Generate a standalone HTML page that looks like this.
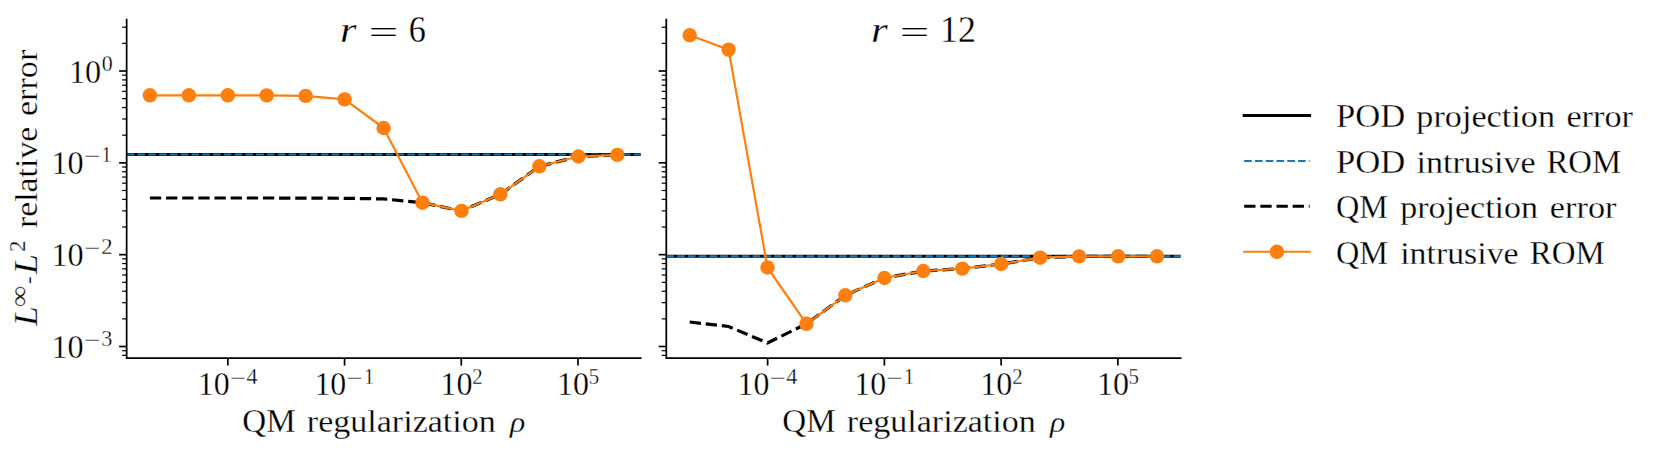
<!DOCTYPE html>
<html lang="en"><head><meta charset="utf-8"><title>QM regularization</title>
<style>html,body{margin:0;padding:0;background:#fff}body{width:1662px;height:453px;overflow:hidden}svg{display:block}.t text{stroke:#fff;stroke-width:0.28px}</style>
</head><body>
<svg width="1662" height="453" viewBox="0 0 1662 453">
<rect width="1662" height="453" fill="#fff"/>
<g font-family="'Liberation Serif', serif" fill="#000" class="t">
<g>
<line x1="126.65" x2="640.7" y1="154.5" y2="154.5" stroke="#000" stroke-width="3"/>
<line x1="126.65" x2="640.7" y1="154.5" y2="154.5" stroke="#1f77b4" stroke-width="2" stroke-dasharray="7.7 3.09"/>
<polyline points="149.9,198.0 188.8,198.0 227.8,198.0 266.7,198.0 305.7,198.1 344.6,198.3 383.6,198.9 422.5,202.7 461.5,210.9 500.4,194.3 539.4,166.3 578.4,156.5 617.3,154.9" fill="none" stroke="#000" stroke-width="3.2" stroke-dasharray="11.3 4.85"/>
<polyline points="149.9,95.3 188.8,95.3 227.8,95.3 266.7,95.4 305.7,95.9 344.6,99.4 383.6,128.0 422.5,202.7 461.5,210.9 500.4,194.3 539.4,166.3 578.4,156.5 617.3,154.9" fill="none" stroke="#ff7f0e" stroke-width="2.2" stroke-linejoin="round" stroke-linecap="square"/>
<circle cx="149.9" cy="95.3" r="7.2" fill="#ff7f0e"/>
<circle cx="188.8" cy="95.3" r="7.2" fill="#ff7f0e"/>
<circle cx="227.8" cy="95.3" r="7.2" fill="#ff7f0e"/>
<circle cx="266.7" cy="95.4" r="7.2" fill="#ff7f0e"/>
<circle cx="305.7" cy="95.9" r="7.2" fill="#ff7f0e"/>
<circle cx="344.6" cy="99.4" r="7.2" fill="#ff7f0e"/>
<circle cx="383.6" cy="128.0" r="7.2" fill="#ff7f0e"/>
<circle cx="422.5" cy="202.7" r="7.2" fill="#ff7f0e"/>
<circle cx="461.5" cy="210.9" r="7.2" fill="#ff7f0e"/>
<circle cx="500.4" cy="194.3" r="7.2" fill="#ff7f0e"/>
<circle cx="539.4" cy="166.3" r="7.2" fill="#ff7f0e"/>
<circle cx="578.4" cy="156.5" r="7.2" fill="#ff7f0e"/>
<circle cx="617.3" cy="154.9" r="7.2" fill="#ff7f0e"/>
<path d="M126.65 19.6V358.0H640.7" fill="none" stroke="#000" stroke-width="1.75" stroke-linecap="square"/>
<line x1="122.1" x2="126.65" y1="355.39" y2="355.39" stroke="#000" stroke-width="1.2"/>
<line x1="122.1" x2="126.65" y1="350.69" y2="350.69" stroke="#000" stroke-width="1.2"/>
<line x1="119.1" x2="126.65" y1="346.49" y2="346.49" stroke="#000" stroke-width="1.7"/>
<line x1="122.1" x2="126.65" y1="318.85" y2="318.85" stroke="#000" stroke-width="1.2"/>
<line x1="122.1" x2="126.65" y1="302.68" y2="302.68" stroke="#000" stroke-width="1.2"/>
<line x1="122.1" x2="126.65" y1="291.20" y2="291.20" stroke="#000" stroke-width="1.2"/>
<line x1="122.1" x2="126.65" y1="282.30" y2="282.30" stroke="#000" stroke-width="1.2"/>
<line x1="122.1" x2="126.65" y1="275.03" y2="275.03" stroke="#000" stroke-width="1.2"/>
<line x1="122.1" x2="126.65" y1="268.88" y2="268.88" stroke="#000" stroke-width="1.2"/>
<line x1="122.1" x2="126.65" y1="263.56" y2="263.56" stroke="#000" stroke-width="1.2"/>
<line x1="122.1" x2="126.65" y1="258.86" y2="258.86" stroke="#000" stroke-width="1.2"/>
<line x1="119.1" x2="126.65" y1="254.66" y2="254.66" stroke="#000" stroke-width="1.7"/>
<line x1="122.1" x2="126.65" y1="227.02" y2="227.02" stroke="#000" stroke-width="1.2"/>
<line x1="122.1" x2="126.65" y1="210.85" y2="210.85" stroke="#000" stroke-width="1.2"/>
<line x1="122.1" x2="126.65" y1="199.37" y2="199.37" stroke="#000" stroke-width="1.2"/>
<line x1="122.1" x2="126.65" y1="190.47" y2="190.47" stroke="#000" stroke-width="1.2"/>
<line x1="122.1" x2="126.65" y1="183.20" y2="183.20" stroke="#000" stroke-width="1.2"/>
<line x1="122.1" x2="126.65" y1="177.05" y2="177.05" stroke="#000" stroke-width="1.2"/>
<line x1="122.1" x2="126.65" y1="171.73" y2="171.73" stroke="#000" stroke-width="1.2"/>
<line x1="122.1" x2="126.65" y1="167.03" y2="167.03" stroke="#000" stroke-width="1.2"/>
<line x1="119.1" x2="126.65" y1="162.83" y2="162.83" stroke="#000" stroke-width="1.7"/>
<line x1="122.1" x2="126.65" y1="135.19" y2="135.19" stroke="#000" stroke-width="1.2"/>
<line x1="122.1" x2="126.65" y1="119.02" y2="119.02" stroke="#000" stroke-width="1.2"/>
<line x1="122.1" x2="126.65" y1="107.54" y2="107.54" stroke="#000" stroke-width="1.2"/>
<line x1="122.1" x2="126.65" y1="98.64" y2="98.64" stroke="#000" stroke-width="1.2"/>
<line x1="122.1" x2="126.65" y1="91.37" y2="91.37" stroke="#000" stroke-width="1.2"/>
<line x1="122.1" x2="126.65" y1="85.22" y2="85.22" stroke="#000" stroke-width="1.2"/>
<line x1="122.1" x2="126.65" y1="79.90" y2="79.90" stroke="#000" stroke-width="1.2"/>
<line x1="122.1" x2="126.65" y1="75.20" y2="75.20" stroke="#000" stroke-width="1.2"/>
<line x1="119.1" x2="126.65" y1="71.00" y2="71.00" stroke="#000" stroke-width="1.7"/>
<line x1="122.1" x2="126.65" y1="43.36" y2="43.36" stroke="#000" stroke-width="1.2"/>
<line x1="122.1" x2="126.65" y1="27.19" y2="27.19" stroke="#000" stroke-width="1.2"/>
<line x1="227.85" x2="227.85" y1="358.0" y2="365.6" stroke="#000" stroke-width="1.7"/>
<text transform="translate(197.71 395.18) scale(0.9965 1.0318)" font-size="32">10</text>
<text transform="translate(229.64 384.68) scale(1.2952 0.9286)" font-size="22.4">−</text>
<text transform="translate(246.46 383.90) scale(0.9810 1.0299)" font-size="22.4">4</text>
<line x1="344.56" x2="344.56" y1="358.0" y2="365.6" stroke="#000" stroke-width="1.7"/>
<text transform="translate(314.42 395.18) scale(0.9965 1.0318)" font-size="32">10</text>
<text transform="translate(346.35 384.68) scale(1.2952 0.9286)" font-size="22.4">−</text>
<text transform="translate(364.36 383.80) scale(0.8571 1.0233)" font-size="22.4">1</text>
<line x1="461.27" x2="461.27" y1="358.0" y2="365.6" stroke="#000" stroke-width="1.7"/>
<text transform="translate(440.36 395.18) scale(1.0018 1.0318)" font-size="32">10</text>
<text transform="translate(472.32 383.90) scale(0.9312 1.0233)" font-size="22.4">2</text>
<line x1="577.98" x2="577.98" y1="358.0" y2="365.6" stroke="#000" stroke-width="1.7"/>
<text transform="translate(557.07 395.18) scale(1.0018 1.0318)" font-size="32">10</text>
<text transform="translate(588.70 383.54) scale(0.9312 1.0233)" font-size="22.4">5</text>
</g>
<g>
<line x1="666.3" x2="1180.6" y1="256.15" y2="256.15" stroke="#000" stroke-width="3"/>
<line x1="666.3" x2="1180.6" y1="256.15" y2="256.15" stroke="#1f77b4" stroke-width="2" stroke-dasharray="7.7 3.09"/>
<polyline points="689.7,322.0 728.6,326.5 767.5,343.0 806.5,323.8 845.4,295.3 884.4,278.0 923.3,271.0 962.3,268.6 1001.2,264.0 1040.2,257.7 1079.1,256.4 1118.1,256.3 1157.0,256.3" fill="none" stroke="#000" stroke-width="3.2" stroke-dasharray="11.3 4.85"/>
<polyline points="689.7,35.2 728.6,49.6 767.5,267.5 806.5,323.8 845.4,295.3 884.4,278.0 923.3,271.0 962.3,268.6 1001.2,264.0 1040.2,257.7 1079.1,256.4 1118.1,256.3 1157.0,256.3" fill="none" stroke="#ff7f0e" stroke-width="2.2" stroke-linejoin="round" stroke-linecap="square"/>
<circle cx="689.7" cy="35.2" r="7.2" fill="#ff7f0e"/>
<circle cx="728.6" cy="49.6" r="7.2" fill="#ff7f0e"/>
<circle cx="767.5" cy="267.5" r="7.2" fill="#ff7f0e"/>
<circle cx="806.5" cy="323.8" r="7.2" fill="#ff7f0e"/>
<circle cx="845.4" cy="295.3" r="7.2" fill="#ff7f0e"/>
<circle cx="884.4" cy="278.0" r="7.2" fill="#ff7f0e"/>
<circle cx="923.3" cy="271.0" r="7.2" fill="#ff7f0e"/>
<circle cx="962.3" cy="268.6" r="7.2" fill="#ff7f0e"/>
<circle cx="1001.2" cy="264.0" r="7.2" fill="#ff7f0e"/>
<circle cx="1040.2" cy="257.7" r="7.2" fill="#ff7f0e"/>
<circle cx="1079.1" cy="256.4" r="7.2" fill="#ff7f0e"/>
<circle cx="1118.1" cy="256.3" r="7.2" fill="#ff7f0e"/>
<circle cx="1157.0" cy="256.3" r="7.2" fill="#ff7f0e"/>
<path d="M666.3 19.6V358.0H1180.6" fill="none" stroke="#000" stroke-width="1.75" stroke-linecap="square"/>
<line x1="661.7" x2="666.3" y1="355.39" y2="355.39" stroke="#000" stroke-width="1.2"/>
<line x1="661.7" x2="666.3" y1="350.69" y2="350.69" stroke="#000" stroke-width="1.2"/>
<line x1="658.7" x2="666.3" y1="346.49" y2="346.49" stroke="#000" stroke-width="1.7"/>
<line x1="661.7" x2="666.3" y1="318.85" y2="318.85" stroke="#000" stroke-width="1.2"/>
<line x1="661.7" x2="666.3" y1="302.68" y2="302.68" stroke="#000" stroke-width="1.2"/>
<line x1="661.7" x2="666.3" y1="291.20" y2="291.20" stroke="#000" stroke-width="1.2"/>
<line x1="661.7" x2="666.3" y1="282.30" y2="282.30" stroke="#000" stroke-width="1.2"/>
<line x1="661.7" x2="666.3" y1="275.03" y2="275.03" stroke="#000" stroke-width="1.2"/>
<line x1="661.7" x2="666.3" y1="268.88" y2="268.88" stroke="#000" stroke-width="1.2"/>
<line x1="661.7" x2="666.3" y1="263.56" y2="263.56" stroke="#000" stroke-width="1.2"/>
<line x1="661.7" x2="666.3" y1="258.86" y2="258.86" stroke="#000" stroke-width="1.2"/>
<line x1="658.7" x2="666.3" y1="254.66" y2="254.66" stroke="#000" stroke-width="1.7"/>
<line x1="661.7" x2="666.3" y1="227.02" y2="227.02" stroke="#000" stroke-width="1.2"/>
<line x1="661.7" x2="666.3" y1="210.85" y2="210.85" stroke="#000" stroke-width="1.2"/>
<line x1="661.7" x2="666.3" y1="199.37" y2="199.37" stroke="#000" stroke-width="1.2"/>
<line x1="661.7" x2="666.3" y1="190.47" y2="190.47" stroke="#000" stroke-width="1.2"/>
<line x1="661.7" x2="666.3" y1="183.20" y2="183.20" stroke="#000" stroke-width="1.2"/>
<line x1="661.7" x2="666.3" y1="177.05" y2="177.05" stroke="#000" stroke-width="1.2"/>
<line x1="661.7" x2="666.3" y1="171.73" y2="171.73" stroke="#000" stroke-width="1.2"/>
<line x1="661.7" x2="666.3" y1="167.03" y2="167.03" stroke="#000" stroke-width="1.2"/>
<line x1="658.7" x2="666.3" y1="162.83" y2="162.83" stroke="#000" stroke-width="1.7"/>
<line x1="661.7" x2="666.3" y1="135.19" y2="135.19" stroke="#000" stroke-width="1.2"/>
<line x1="661.7" x2="666.3" y1="119.02" y2="119.02" stroke="#000" stroke-width="1.2"/>
<line x1="661.7" x2="666.3" y1="107.54" y2="107.54" stroke="#000" stroke-width="1.2"/>
<line x1="661.7" x2="666.3" y1="98.64" y2="98.64" stroke="#000" stroke-width="1.2"/>
<line x1="661.7" x2="666.3" y1="91.37" y2="91.37" stroke="#000" stroke-width="1.2"/>
<line x1="661.7" x2="666.3" y1="85.22" y2="85.22" stroke="#000" stroke-width="1.2"/>
<line x1="661.7" x2="666.3" y1="79.90" y2="79.90" stroke="#000" stroke-width="1.2"/>
<line x1="661.7" x2="666.3" y1="75.20" y2="75.20" stroke="#000" stroke-width="1.2"/>
<line x1="658.7" x2="666.3" y1="71.00" y2="71.00" stroke="#000" stroke-width="1.7"/>
<line x1="661.7" x2="666.3" y1="43.36" y2="43.36" stroke="#000" stroke-width="1.2"/>
<line x1="661.7" x2="666.3" y1="27.19" y2="27.19" stroke="#000" stroke-width="1.2"/>
<line x1="767.63" x2="767.63" y1="358.0" y2="365.6" stroke="#000" stroke-width="1.7"/>
<text transform="translate(737.49 395.18) scale(0.9965 1.0318)" font-size="32">10</text>
<text transform="translate(769.42 384.68) scale(1.2952 0.9286)" font-size="22.4">−</text>
<text transform="translate(786.24 383.90) scale(0.9810 1.0299)" font-size="22.4">4</text>
<line x1="884.38" x2="884.38" y1="358.0" y2="365.6" stroke="#000" stroke-width="1.7"/>
<text transform="translate(854.24 395.18) scale(0.9965 1.0318)" font-size="32">10</text>
<text transform="translate(886.17 384.68) scale(1.2952 0.9286)" font-size="22.4">−</text>
<text transform="translate(904.18 383.80) scale(0.8571 1.0233)" font-size="22.4">1</text>
<line x1="1001.13" x2="1001.13" y1="358.0" y2="365.6" stroke="#000" stroke-width="1.7"/>
<text transform="translate(980.22 395.18) scale(1.0018 1.0318)" font-size="32">10</text>
<text transform="translate(1012.17 383.90) scale(0.9312 1.0233)" font-size="22.4">2</text>
<line x1="1117.87" x2="1117.87" y1="358.0" y2="365.6" stroke="#000" stroke-width="1.7"/>
<text transform="translate(1096.97 395.18) scale(1.0018 1.0318)" font-size="32">10</text>
<text transform="translate(1128.60 383.54) scale(0.9312 1.0233)" font-size="22.4">5</text>
</g>
<text transform="translate(51.38 357.98) scale(1.0070 1.0318)" font-size="32">10</text>
<text transform="translate(83.94 346.63) scale(1.2952 0.9286)" font-size="22.4">−</text>
<text transform="translate(101.16 345.75) scale(0.9947 0.9935)" font-size="22.4">3</text>
<text transform="translate(51.38 266.08) scale(1.0070 1.0318)" font-size="32">10</text>
<text transform="translate(83.94 254.72) scale(1.2952 0.9286)" font-size="22.4">−</text>
<text transform="translate(101.19 253.90) scale(1.0159 0.9967)" font-size="22.4">2</text>
<text transform="translate(51.38 174.48) scale(1.0070 1.0318)" font-size="32">10</text>
<text transform="translate(83.94 163.12) scale(1.2952 0.9286)" font-size="22.4">−</text>
<text transform="translate(101.82 162.30) scale(0.8452 0.9967)" font-size="22.4">1</text>
<text transform="translate(68.98 83.08) scale(1.0070 1.0318)" font-size="32">10</text>
<text transform="translate(101.81 70.94) scale(0.9796 1.0260)" font-size="22.4">0</text>
<text transform="translate(242.36 431.70) scale(1.0357 1.0500)" font-size="32">QM</text>
<text transform="translate(306.87 431.70) scale(1.0633 1.0000)" font-size="32">regularization</text>
<text transform="translate(509.89 432.33) scale(0.9935 0.9244)" font-size="32" font-style="italic">ρ</text>
<text transform="translate(782.36 431.70) scale(1.0357 1.0500)" font-size="32">QM</text>
<text transform="translate(846.87 431.70) scale(1.0633 1.0000)" font-size="32">regularization</text>
<text transform="translate(1049.89 432.33) scale(0.9935 0.9244)" font-size="32" font-style="italic">ρ</text>
<text transform="translate(339.88 41.90) scale(1.0600 0.9187)" font-size="40" font-style="italic">r</text>
<text transform="translate(368.51 42.68) scale(1.3280 0.8094)" font-size="40">=</text>
<text transform="translate(408.73 41.80) scale(0.8552 0.9636)" font-size="40">6</text>
<text transform="translate(870.96 41.90) scale(1.0733 0.9187)" font-size="40" font-style="italic">r</text>
<text transform="translate(899.63 42.68) scale(1.3173 0.8094)" font-size="40">=</text>
<text transform="translate(939.89 41.80) scale(0.9000 0.9637)" font-size="40">12</text>
<g transform="translate(37.2 326.5) rotate(-90)">
<text transform="translate(0.56 0.00) scale(1.1118 1.0524)" font-size="32" font-style="italic">L</text>
<text transform="translate(19.15 -9.18) scale(1.3537 1.2000)" font-size="22.4">∞</text>
<text transform="translate(42.48 -1.80) scale(0.7176 0.6667)" font-size="32">-</text>
<text transform="translate(52.27 0.00) scale(1.1412 1.0524)" font-size="32" font-style="italic">L</text>
<text transform="translate(74.58 -12.20) scale(1.0265 0.9834)" font-size="22.4">2</text>
<text transform="translate(98.47 0.00) scale(1.0566 1.0000)" font-size="32">relative</text>
<text transform="translate(210.43 0.00) scale(1.0669 1.0000)" font-size="32">error</text>
</g>
<line x1="1244.2" x2="1309.6" y1="115.5" y2="115.5" stroke="#000" stroke-width="3" stroke-linecap="square"/>
<text transform="translate(1336.11 127.20) scale(1.0824 1.0600)" font-size="32">POD</text>
<text transform="translate(1416.37 127.20) scale(1.0686 1.0000)" font-size="32">projection</text>
<text transform="translate(1566.43 127.20) scale(1.0702 1.0000)" font-size="32">error</text>
<line x1="1244.2" x2="1309.6" y1="160.9" y2="160.9" stroke="#1f77b4" stroke-width="2" stroke-dasharray="7.6 3.17"/>
<text transform="translate(1336.11 173.10) scale(1.0824 1.0600)" font-size="32">POD</text>
<text transform="translate(1416.57 173.10) scale(1.0643 1.0000)" font-size="32">intrusive</text>
<text transform="translate(1546.49 173.10) scale(1.0257 1.0600)" font-size="32">ROM</text>
<line x1="1244.2" x2="1309.6" y1="206.3" y2="206.3" stroke="#000" stroke-width="3" stroke-dasharray="11.3 4.85"/>
<text transform="translate(1335.89 218.00) scale(1.0098 1.0600)" font-size="32">QM</text>
<text transform="translate(1400.17 218.00) scale(1.0632 1.0000)" font-size="32">projection</text>
<text transform="translate(1549.83 218.00) scale(1.0719 1.0000)" font-size="32">error</text>
<line x1="1244.2" x2="1309.6" y1="251.8" y2="251.8" stroke="#ff7f0e" stroke-width="2.1" stroke-linecap="square"/>
<circle cx="1276.90" cy="251.8" r="7.2" fill="#ff7f0e"/>
<text transform="translate(1335.89 263.60) scale(1.0098 1.0600)" font-size="32">QM</text>
<text transform="translate(1400.17 263.60) scale(1.0579 1.0000)" font-size="32">intrusive</text>
<text transform="translate(1529.79 263.60) scale(1.0298 1.0600)" font-size="32">ROM</text>
</g>
</svg>
</body></html>
